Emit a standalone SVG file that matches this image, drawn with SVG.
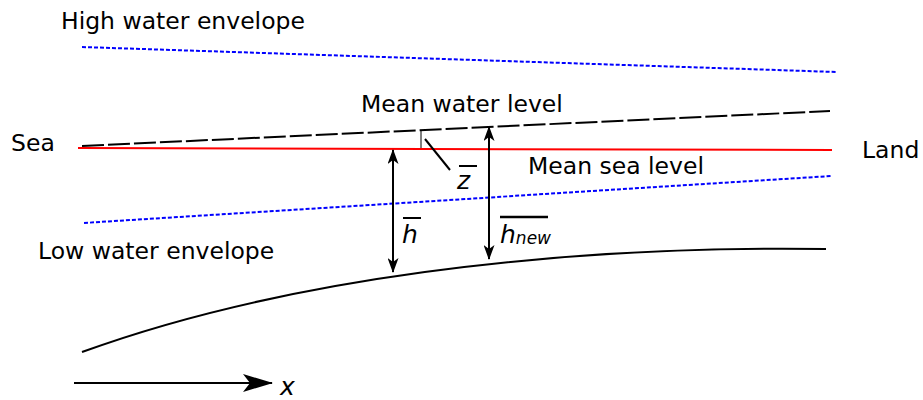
<svg xmlns="http://www.w3.org/2000/svg" width="923" height="400" viewBox="0 0 923 400">
<style>
text{font-family:"DejaVu Sans",Verdana,sans-serif;font-size:23.5px;fill:#000}
.it{font-style:italic;font-size:25px}
.blue{stroke:#0000ff;stroke-width:2;stroke-dasharray:4 2;fill:none}
.blk{stroke:#000;stroke-width:2;fill:none}
</style>
<defs>
<marker id="ah" viewBox="0 0 15 11" refX="14" refY="5.5" markerWidth="15" markerHeight="11" markerUnits="userSpaceOnUse" orient="auto-start-reverse">
<path d="M0,0 L15,5.5 L0,11 L4,5.5 Z" fill="#000"/>
</marker>
<marker id="ahx" viewBox="0 0 30 18" refX="29" refY="9" markerWidth="30" markerHeight="18" markerUnits="userSpaceOnUse" orient="auto">
<path d="M0,0 L30,9 L0,18 L7,9 Z" fill="#000"/>
</marker>
</defs>
<g id="labels">
<text x="61" y="29">High water envelope</text>
<text x="361" y="112">Mean water level</text>
<text x="11" y="151">Sea</text>
<text x="862" y="158">Land</text>
<text x="528" y="174">Mean sea level</text>
<text x="38" y="259">Low water envelope</text>
</g>
<g id="connectors">
<line class="blue" x1="82" y1="47" x2="836" y2="72"/>
<line x1="82" y1="146" x2="830" y2="111" stroke="#000" stroke-width="2" stroke-dasharray="22 4"/>
<line x1="78" y1="148" x2="832" y2="150" stroke="#ff0000" stroke-width="2"/>
<line class="blue" x1="84" y1="223" x2="831" y2="176"/>
<path class="blk" d="M82,352 C280,280 550,245 826,249"/>
<line class="blk" x1="393" y1="150" x2="393" y2="272" marker-start="url(#ah)" marker-end="url(#ah)"/>
<line class="blk" x1="489" y1="127" x2="489" y2="259" marker-start="url(#ah)" marker-end="url(#ah)"/>
<line x1="421" y1="131" x2="421" y2="148" stroke="#000" stroke-width="1"/>
<line class="blk" x1="425" y1="139" x2="450" y2="170"/>
<line class="blk" x1="74" y1="383" x2="272" y2="383" marker-end="url(#ahx)"/>
</g>
<g id="symbols">
<line x1="459" y1="166" x2="477" y2="166" stroke="#000" stroke-width="2"/>
<text class="it" x="457" y="189">z</text>
<line x1="403" y1="218" x2="421" y2="218" stroke="#000" stroke-width="2"/>
<text class="it" x="402" y="243">h</text>
<line x1="500" y1="217" x2="548" y2="217" stroke="#000" stroke-width="2.5"/>
<text class="it" x="500" y="243">h<tspan font-size="17" dy="1">new</tspan></text>
<text class="it" x="280" y="395">x</text>
</g>
</svg>
